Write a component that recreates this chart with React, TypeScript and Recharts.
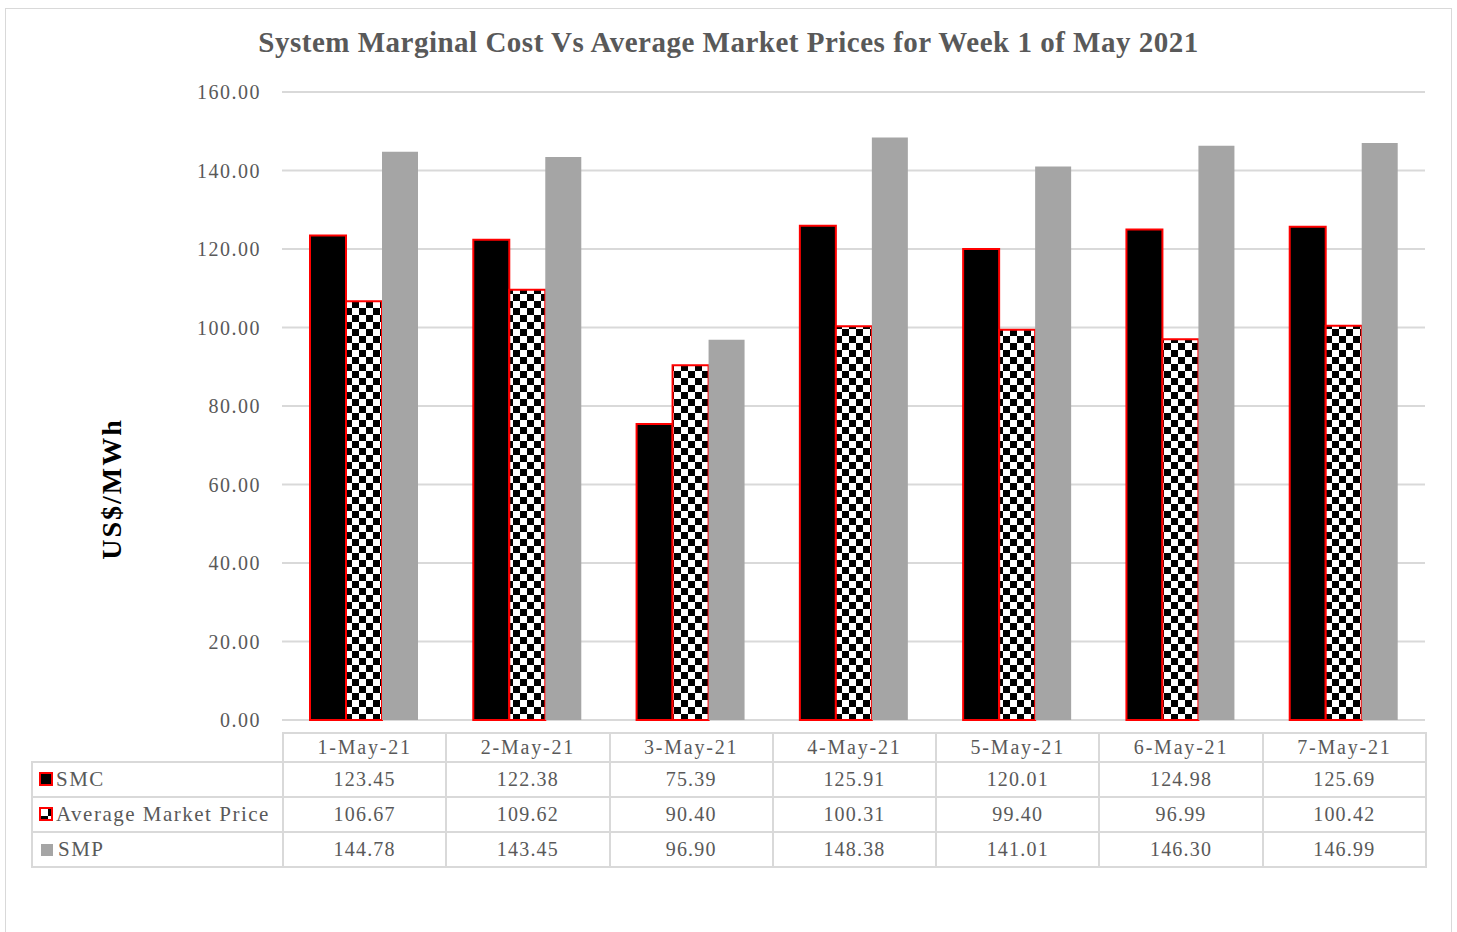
import React from 'react'
import { BarChart, Bar, XAxis, YAxis, CartesianGrid } from 'recharts'

const dates = ['1-May-21', '2-May-21', '3-May-21', '4-May-21', '5-May-21', '6-May-21', '7-May-21']
const smc = [123.45, 122.38, 75.39, 125.91, 120.01, 124.98, 125.69]
const amp = [106.67, 109.62, 90.4, 100.31, 99.4, 96.99, 100.42]
const smp = [144.78, 143.45, 96.9, 148.38, 141.01, 146.3, 146.99]
const yTicks = [0, 20, 40, 60, 80, 100, 120, 140, 160]

const FONT = '"Liberation Serif", "DejaVu Serif", serif'
const GRID = '#d9d9d9'
const TXT = '#595959'

const data = dates.map((d, i) => ({ date: d, smc: smc[i], amp: amp[i], smp: smp[i] }))

const rows = [
  { key: 'smc', label: 'SMC', values: smc },
  { key: 'amp', label: 'Average Market Price', values: amp },
  { key: 'smp', label: 'SMP', values: smp },
]

function Marker({ kind }: { kind: string }) {
  if (kind === 'smc')
    return <span style={{ display: 'inline-block', width: 10, height: 10, background: '#000', border: '2px solid #f00', marginRight: 3 }} />
  if (kind === 'amp')
    return (
      <span style={{ display: 'inline-block', width: 10, height: 10, border: '2px solid #f00', marginRight: 3, position: 'relative', background: '#fff' }}>
        <span style={{ position: 'absolute', left: 0, bottom: 0, width: 7, height: 3, background: '#000' }} />
        <span style={{ position: 'absolute', left: 7, top: 0, width: 3, height: 7, background: '#000' }} />
      </span>
    )
  return <span style={{ display: 'inline-block', width: 12, height: 12, background: '#a5a5a5', marginRight: 5, marginLeft: 2 }} />
}

export default function App() {
  const colW = (1425 - 282) / dates.length
  const cell = (w: number, h: number, extra: React.CSSProperties = {}): React.CSSProperties => ({
    width: w,
    height: h,
    boxSizing: 'border-box',
    border: `2px solid ${GRID}`,
    padding: 0,
    textAlign: 'center',
    color: TXT,
    fontSize: 20,
    letterSpacing: 1.2,
    ...extra,
  })

  return (
    <div style={{ position: 'absolute', left: 0, top: 0, width: 1457, height: 932, overflow: 'hidden', background: '#fff', fontFamily: FONT }}>
      <svg width={0} height={0} style={{ position: 'absolute' }}>
        <defs>
          <pattern id="checker" x={345} y={0} width={14} height={14} patternUnits="userSpaceOnUse">
            <rect width={14} height={14} fill="#fff" />
            <rect width={7} height={7} fill="#000" />
            <rect x={7} y={7} width={7} height={7} fill="#000" />
          </pattern>
        </defs>
      </svg>
      <div style={{ position: 'absolute', left: 5, top: 8, width: 1447, height: 960, border: `1px solid ${GRID}`, boxSizing: 'border-box' }} />
      <div style={{ position: 'absolute', left: 0, top: 26, width: 1457, textAlign: 'center', fontSize: 29, letterSpacing: 0.5, fontWeight: 'bold', color: TXT }}>
        System Marginal Cost Vs Average Market Prices for Week 1 of May 2021
      </div>
      <div style={{ position: 'absolute', left: 112, top: 489, transform: 'translate(-50%, -50%) rotate(-90deg)', fontSize: 28, letterSpacing: 2, fontWeight: 'bold', color: '#000', whiteSpace: 'nowrap' }}>
        US$/MWh
      </div>
      <div style={{ position: 'absolute', left: 0, top: 0 }}>
        <BarChart width={1457} height={932} data={data} margin={{ top: 92, right: 32, bottom: 212, left: 202 }} barGap={0} barSize={36}>
          <CartesianGrid vertical={false} stroke={GRID} strokeWidth={2} />
          <XAxis dataKey="date" hide />
          <YAxis
            width={80}
            domain={[0, 160]}
            ticks={yTicks}
            axisLine={false}
            tickLine={false}
            tickSize={0}
            tickMargin={21}
            tickFormatter={(v: number) => v.toFixed(2)}
            tick={{ fill: TXT, fontSize: 20, letterSpacing: 1.5, fontFamily: FONT }}
          />
          <Bar dataKey="smc" fill="#000" stroke="#f00" strokeWidth={2} isAnimationActive={false} />
          <Bar dataKey="amp" fill="url(#checker)" stroke="#f00" strokeWidth={2} isAnimationActive={false} />
          <Bar dataKey="smp" fill="#a5a5a5" isAnimationActive={false} />
        </BarChart>
      </div>
      <table style={{ position: 'absolute', left: 31, top: 732, borderCollapse: 'collapse', tableLayout: 'fixed', fontFamily: FONT }}>
        <tbody>
          <tr>
            <td style={cell(251, 29, { border: 'none', borderRight: `2px solid ${GRID}` })} />
            {dates.map((d) => (
              <td key={d} style={cell(colW, 29, { letterSpacing: 1.8 })}>{d}</td>
            ))}
          </tr>
          {rows.map((r) => (
            <tr key={r.key}>
              <td style={cell(251, 35, { textAlign: 'left', paddingLeft: 6, fontSize: 21, letterSpacing: 1.5, whiteSpace: 'nowrap' })}>
                <Marker kind={r.key} />
                {r.label}
              </td>
              {r.values.map((v, i) => (
                <td key={i} style={cell(colW, 35)}>{v.toFixed(2)}</td>
              ))}
            </tr>
          ))}
        </tbody>
      </table>
    </div>
  )
}
